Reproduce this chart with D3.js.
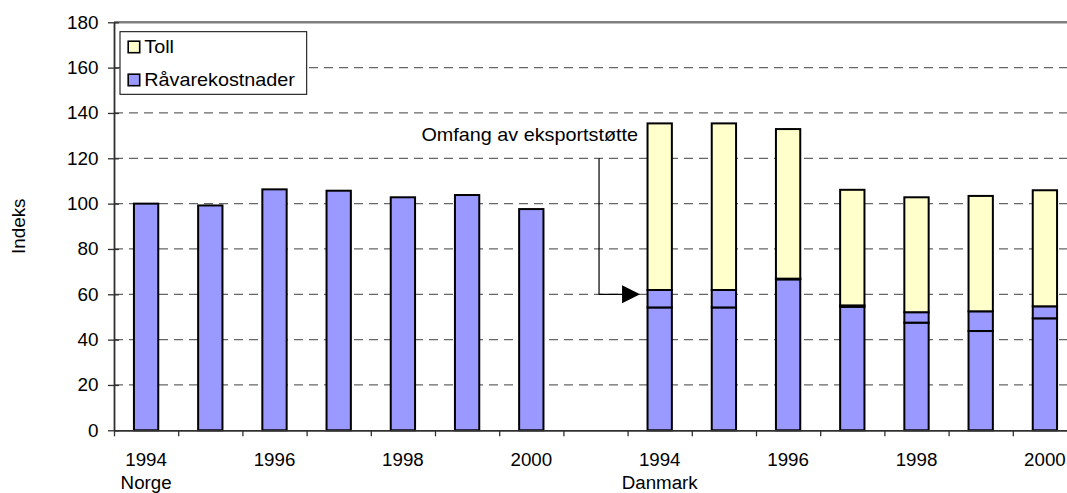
<!DOCTYPE html>
<html>
<head>
<meta charset="utf-8">
<script src="https://cdn.jsdelivr.net/npm/d3@7"></script>
<style>
  body { margin: 0; background: #fff; }
  svg text { font-family: "Liberation Sans", Arial, sans-serif; font-size: 18px; fill: #000; }
  .ylab text { transform-box: fill-box; transform-origin: right center; transform: scaleX(1.05); }
  .xlab text { transform-box: fill-box; transform-origin: center; transform: scaleX(1.04); }
</style>
</head>
<body>
<svg id="chart" width="1067" height="493"></svg>
<script>
// Index values, Norge and Danmark, 1994–2000
const years = [1994, 1995, 1996, 1997, 1998, 1999, 2000];
const countries = ["Norge", "Danmark"];
const norgeRaavare = [100, 99.2, 106.3, 105.7, 102.8, 103.8, 97.6];
const danmarkRaavare = [54.2, 54.2, 66.6, 54.5, 47.5, 43.8, 49.4];
const danmarkStotte = [7.7, 7.7, 0.3, 0.6, 4.6, 8.7, 5.3];
const danmarkToll = [73.5, 73.5, 66.0, 51.0, 50.7, 50.9, 51.2];
const yTicks = [0, 20, 40, 60, 80, 100, 120, 140, 160, 180];
const labelYears = [1994, 1996, 1998, 2000];
const seriesNames = { toll: "Toll", raavare: "Råvarekostnader" };
const annotationText = "Omfang av eksportstøtte";

const colors = { raavare: "#9999FF", stotte: "#9999FF", toll: "#FFFFCC" };

// Rows: Norge years, an empty slot, Danmark years
const rows = [];
years.forEach((yr, i) => rows.push({ key: "N" + yr, year: yr, country: "Norge", raavare: norgeRaavare[i], stotte: 0, toll: 0 }));
rows.push({ key: "gap", year: null, country: null, raavare: 0, stotte: 0, toll: 0 });
years.forEach((yr, i) => rows.push({ key: "D" + yr, year: yr, country: "Danmark", raavare: danmarkRaavare[i], stotte: danmarkStotte[i], toll: danmarkToll[i] }));

const svg = d3.select("#chart");
const plotLeft = 114, plotTop = 22.3, plotBottom = 430.3;
const step = 64.2;
const plotRight = plotLeft + step * rows.length;

const x = d3.scaleBand().domain(rows.map(d => d.key)).range([plotLeft, plotRight])
  .paddingInner(0.59).paddingOuter(0.295);
const slot = d3.scaleLinear().domain([0, rows.length]).range([plotLeft, plotRight]);
const y = d3.scaleLinear().domain([0, 180]).range([plotBottom, plotTop]);

// Dashed gridlines
svg.append("g").selectAll("line")
  .data(yTicks.filter(v => v > 0 && v < 180))
  .join("line")
  .attr("x1", plotLeft).attr("x2", plotRight)
  .attr("y1", d => y(d)).attr("y2", d => y(d))
  .attr("stroke", "#666").attr("stroke-width", 1.3)
  .attr("stroke-dasharray", "9,6");

// Plot-area top border
svg.append("line")
  .attr("x1", plotLeft).attr("x2", plotRight)
  .attr("y1", y(180)).attr("y2", y(180))
  .attr("stroke", "#808080").attr("stroke-width", 2.5);

// Stacked bars
const stack = d3.stack().keys(["raavare", "stotte", "toll"]);
const layers = stack(rows);
const barG = svg.append("g");
layers.forEach(layer => {
  barG.append("g").selectAll("rect")
    .data(layer.filter(d => d[1] - d[0] > 0))
    .join("rect")
    .attr("x", d => x(d.data.key) + 1)
    .attr("width", x.bandwidth() - 2)
    .attr("y", d => y(d[1]))
    .attr("height", d => y(d[0]) - y(d[1]))
    .attr("fill", colors[layer.key])
    .attr("stroke", "#000").attr("stroke-width", 2);
});

// Y axis
const yAxis = svg.append("g").attr("class", "ylab")
  .attr("transform", `translate(${plotLeft},0)`)
  .call(d3.axisLeft(y).tickValues(yTicks).tickSize(6).tickSizeOuter(0).tickPadding(9.5).tickFormat(d3.format("d")));
yAxis.select(".domain").attr("stroke", "#303030").attr("stroke-width", 1.8);
yAxis.selectAll(".tick line").attr("x1", 5).attr("stroke", "#303030").attr("stroke-width", 1.3);
yAxis.selectAll("text").style("font-size", "18px").attr("fill", "#000");

// X axis: slot-boundary ticks
const xTicks = svg.append("g").attr("transform", `translate(0,${plotBottom})`)
  .call(d3.axisBottom(slot).tickValues(d3.range(0, rows.length + 1)).tickSize(6).tickSizeOuter(0).tickFormat(""));
xTicks.select(".domain").attr("stroke", "#303030").attr("stroke-width", 1.8);
xTicks.selectAll(".tick line").attr("stroke", "#303030").attr("stroke-width", 1.3);

// X axis: year labels
const xLab = svg.append("g").attr("class", "xlab").attr("transform", `translate(0,${plotBottom})`)
  .call(d3.axisBottom(x).tickSize(0).tickPadding(22.6)
    .tickFormat(k => { const r = rows.find(d => d.key === k); return r && labelYears.includes(r.year) ? r.year : ""; }));
xLab.select(".domain").remove();
xLab.selectAll("text").style("font-size", "18px").attr("fill", "#000");

// Country labels under the first year of each group
svg.append("g").selectAll("text")
  .data(countries)
  .join("text")
  .attr("transform", c => `translate(${x((c === "Norge" ? "N" : "D") + years[0]) + x.bandwidth() / 2},488.5) scale(1.04,1)`)
  .attr("text-anchor", "middle")
  .text(c => c);

// Y axis title
svg.append("text")
  .attr("transform", `translate(25,${(plotTop + plotBottom) / 2}) rotate(-90) scale(1.05,1)`)
  .attr("text-anchor", "middle")
  .text("Indeks");

// Legend
const lg = svg.append("g");
lg.append("rect").attr("x", 120).attr("y", 31.7).attr("width", 186.7).attr("height", 62.6)
  .attr("fill", "#fff").attr("stroke", "#000").attr("stroke-width", 1);
[["toll", 41.2, 53.3], ["raavare", 74.2, 86]].forEach(([k, sy, ty]) => {
  lg.append("rect").attr("x", 128.2).attr("y", sy).attr("width", 11.5).attr("height", 11.5)
    .attr("fill", colors[k]).attr("stroke", "#000").attr("stroke-width", 1.6);
  lg.append("text").attr("transform", `translate(144.3,${ty}) scale(1.1,1)`).text(seriesNames[k]);
});

// Annotation pointing at the export-support segment of Danmark 1994
const target = "D" + years[0];
const tipX = x(target) - 6.5;
const elbowX = tipX - 41;
const arrowY = y(60);
const lineTop = y(120);
const ann = svg.append("g");
ann.append("path")
  .attr("d", `M${elbowX},${lineTop} V${arrowY} H${tipX - 17}`)
  .attr("fill", "none").attr("stroke", "#000").attr("stroke-width", 1.2);
ann.append("path")
  .attr("d", `M${tipX},${arrowY} L${tipX - 18},${arrowY - 9} L${tipX - 18},${arrowY + 9} Z`)
  .attr("fill", "#000");
ann.append("text")
  .attr("transform", `translate(${x(target) - 8.5},${lineTop - 17}) scale(1.1,1)`)
  .attr("text-anchor", "end")
  .text(annotationText);
</script>
</body>
</html>
